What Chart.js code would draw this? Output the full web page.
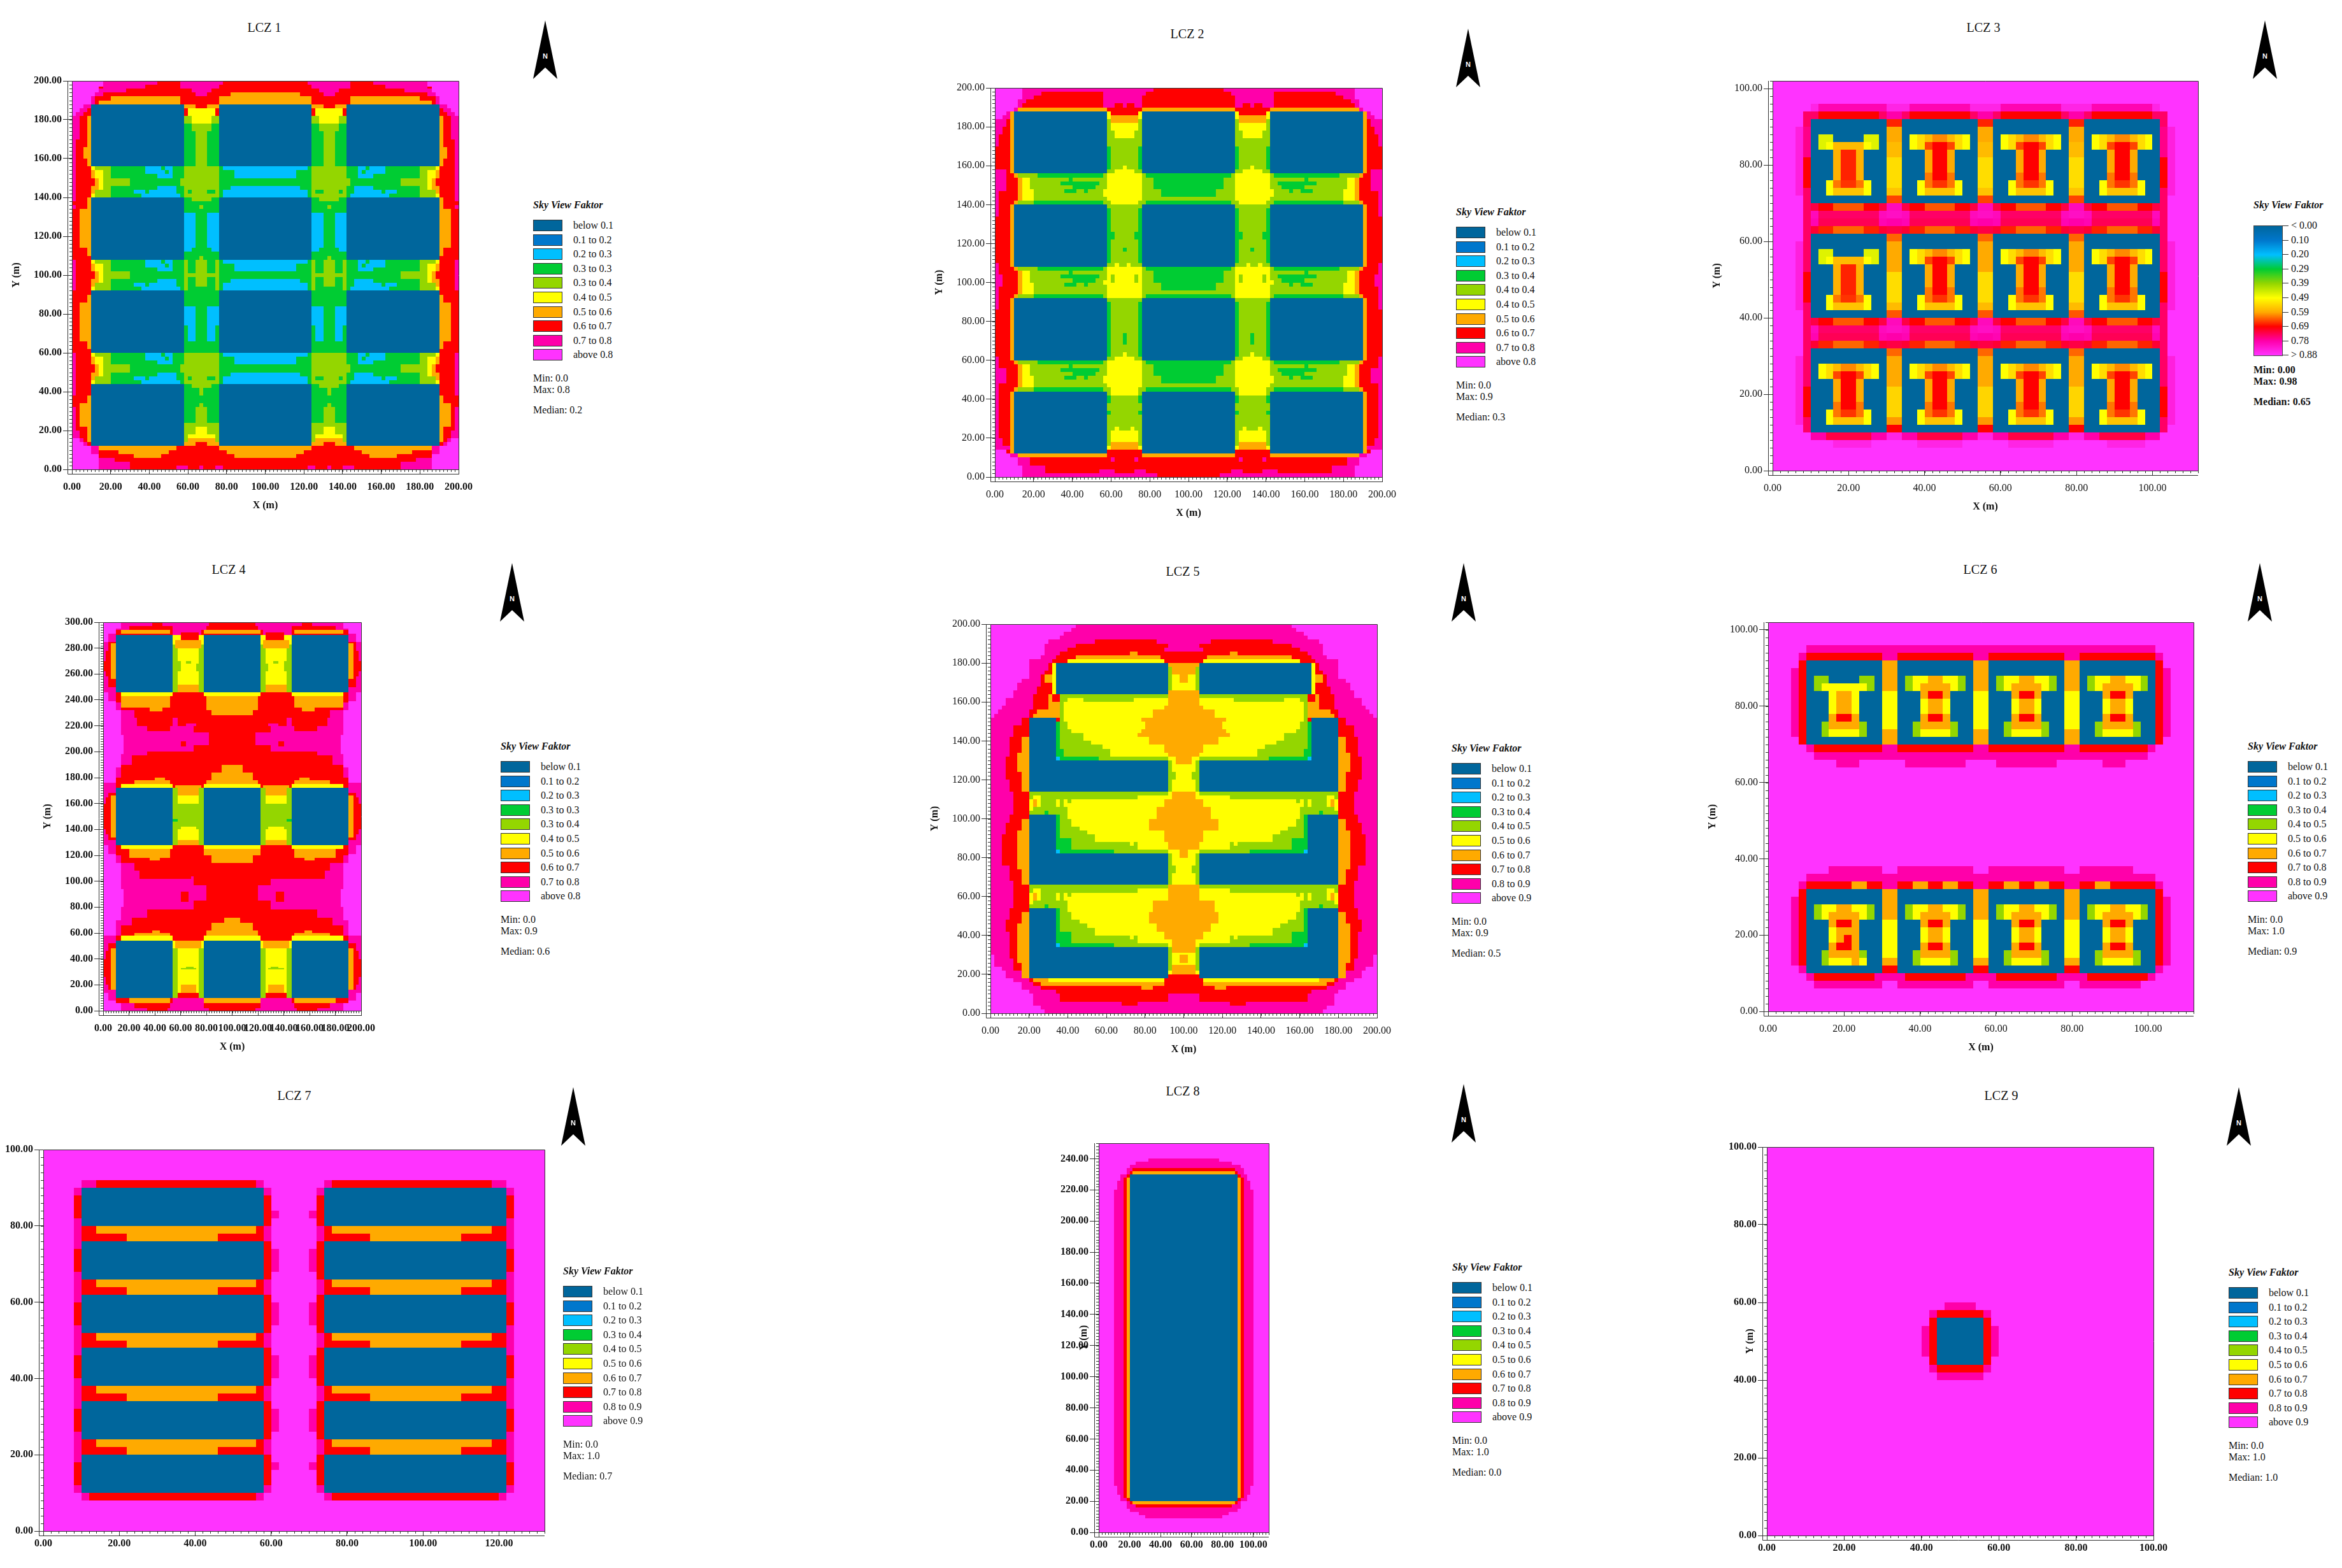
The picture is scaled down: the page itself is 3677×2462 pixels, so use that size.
<!DOCTYPE html>
<html>
<head>
<meta charset="utf-8">
<title>Sky View Faktor LCZ 1-9</title>
<script src="https://cdn.jsdelivr.net/npm/chart.js@4"></script>
<style>
html, body { margin: 0; background: #fff; }
body { position: relative; width: 3677px; height: 2462px; overflow: hidden; font-family: "Liberation Serif", serif; color: #111; }
canvas, .txt, .swatch, svg, .bar { position: absolute; }
.txt { font-size: 16px; white-space: nowrap; line-height: 18px; }
.swatch { width: 44px; height: 16px; border: 1px solid #333; }
</style>
</head>
<body>
<script>
// cell = [x0, x1, y0, y1, class], in metres. Fractional class = colour between two legend colours
const mirror = (list, w) => list.map(c => [w - c[1], w - c[0], c[2], c[3], c[4]]);
const shift = (list, dx, dy) => list.map(c => [c[0] + dx, c[1] + dx, c[2] + dy, c[3] + dy, c[4]]);

const svfColors = ['#00669c', '#0077cc', '#00bfff', '#00cc33', '#94d600', '#ffff00', '#ffaa00', '#ff0000', '#ff00aa', '#ff33ff'];
const legend8 = ['below 0.1', '0.1 to 0.2', '0.2 to 0.3', '0.3 to 0.3', '0.3 to 0.4', '0.4 to 0.5', '0.5 to 0.6', '0.6 to 0.7', '0.7 to 0.8', 'above 0.8'];
const legend2 = ['below 0.1', '0.1 to 0.2', '0.2 to 0.3', '0.3 to 0.4', '0.4 to 0.4', '0.4 to 0.5', '0.5 to 0.6', '0.6 to 0.7', '0.7 to 0.8', 'above 0.8'];
const legend9 = ['below 0.1', '0.1 to 0.2', '0.2 to 0.3', '0.3 to 0.4', '0.4 to 0.5', '0.5 to 0.6', '0.6 to 0.7', '0.7 to 0.8', '0.8 to 0.9', 'above 0.9'];
const gradientLabels = ['< 0.00', '0.10', '0.20', '0.29', '0.39', '0.49', '0.59', '0.69', '0.78', '> 0.88'];

// ---- LCZ 1
const lcz1Blocks = [[10,58,156,188,0],[76,124,156,188,0],[142,190,156,188,0],[10,58,108,140,0],[76,124,108,140,0],[142,190,108,140,0],[10,58,60,92,0],[76,124,60,92,0],[142,190,60,92,0],[10,58,12,44,0],[76,124,12,44,0],[142,190,12,44,0]];
const lcz1Outer = [[16,44,198,200,8],[16,38,196,198,8],[14,28,194,196,8],[12,16,192,194,8],[10,12,188,192,8],[6,10,186,188,8],[4,8,184,186,8],[2,6,182,184,8],[0,4,170,182,8],[0,2,138,170,8],[0,2,134,136,8],[0,2,92,108,8],[0,2,38,60,8],[0,2,20,32,8],[0,4,16,20,8],[2,6,14,16,8],[4,8,12,14,8],[8,10,10,12,8],[10,14,4,12,8],[14,22,4,6,8],[14,30,0,4,8],[54,60,0,2,8],[66,68,0,2,8],[74,78,0,2,8],
  [56,78,198,200,8],[56,76,196,198,8],[62,72,194,196,8],[64,70,192,194,8],
  [0,16,197,200,9],[0,14,194,197,9],[0,12,192,194,9],[0,10,188,192,9],[0,6,186,188,9],[0,4,184,186,9],[0,2,182,184,9],[0,4,14,16,9],[0,6,12,14,9],[0,10,8,12,9],[0,14,0,8,9],
  [20,56,190,192,6],[14,56,188,190,6],[14,54,10,12,6],[24,50,8,10,6],[32,46,6,8,6],
  [8,10,156,182,6],[6,8,160,166,6],[8,10,110,140,6],[4,8,114,134,6],[8,10,62,90,6],[4,8,66,86,6],[8,10,14,38,6],[4,8,22,34,6]];
const lcz1Row = [[10,20,140,156,4],[20,58,140,156,3],[10,12,142,154,6],[12,14,144,150,6],[10,12,154,156,5],[10,12,140,142,5],[12,16,150,154,5],[14,16,144,150,5],[10,12,146,150,7],[18,30,146,150,4],
  [38,52,152,156,2],[44,52,150,152,2],[48,50,152,154,3],[46,48,154,156,3],[36,56,140,142,2],[36,54,142,144,2],[32,36,142,144,2],[44,54,144,146,2],[38,40,142,144,3]];
const lcz1Inter = [[58,76,140,156,4],[56,78,146,150,4],[62,72,138,140,4],[60,62,142,144,3],[70,74,142,144,3]];
const lcz1Mid = [[76,124,140,156,3],[78,122,154,156,2],[84,116,150,154,2],[82,118,144,146,2],[78,122,140,144,2]];
const lcz1Street = [
  [58,76,156,178,3],[64,70,156,178,4],[62,72,174,178,4],[58,76,178,182,4],[60,74,182,186,5],[62,72,178,182,5],[58,76,186,188,6],[64,70,186,188,7],
  [58,76,108,140,3],[58,64,114,132,2],[58,62,112,114,2],[70,76,114,132,2],[72,76,112,114,2],[66,68,134,136,4],
  [58,76,92,108,3],[58,60,92,108,4],[74,76,92,108,4],[64,70,94,108,4],[66,68,108,110,4],[66,68,90,92,4],[60,78,99,101,4],
  [58,76,60,92,3],[58,64,74,84,2],[60,64,66,74,2],[70,76,74,84,2],[70,74,66,74,2],
  [58,76,12,44,3],[66,68,38,44,4],[64,70,24,32,4],[66,68,32,34,4],[58,76,14,24,4],[64,70,18,22,5],[60,74,16,18,5],[60,74,14,16,6],[58,76,12,14,6],[64,70,12,14,7]];
const lcz1Left = [...lcz1Outer, ...lcz1Row, ...shift(lcz1Row, 0, -48), ...shift(lcz1Row, 0, -96), ...lcz1Street, ...lcz1Inter, ...shift(lcz1Inter, 0, -96)];
const lcz1Center = [[82,118,192,194,6],[76,124,188,192,6],[76,124,10,12,6],[80,120,8,10,6],[84,116,6,8,6], ...lcz1Mid, ...shift(lcz1Mid, 0, -48), ...shift(lcz1Mid, 0, -96)];
const lcz1Cells = [[0,200,0,200,7], ...lcz1Left, ...mirror(lcz1Left, 200), ...lcz1Center, ...lcz1Blocks];

// ---- LCZ 2
const lcz2Blocks = lcz1Blocks;
const lcz2Outer = [[14,82,198,200,8],[14,24,196,198,8],[14,20,194,196,8],[14,16,192,194,8],[56,78,196,198,8],[56,76,192,196,8],[56,62,190,192,8],[66,68,190,192,8],[72,76,190,192,8],
  [12,14,190,194,8],[10,12,188,192,8],[6,10,186,188,8],[4,8,184,186,8],[2,6,182,184,8],[0,6,180,184,8],[0,4,176,180,8],[0,2,170,176,8],[0,6,147,158,8],[0,2,134,147,8],[0,2,86,110,8],[0,4,98,104,8],[0,2,36,62,8],[0,6,48,56,8],[0,2,20,36,8],[0,4,16,20,8],[0,8,14,16,8],[8,12,10,12,8],[12,18,6,10,8],[14,26,2,6,8],[14,84,0,2,8],[54,62,2,4,8],[72,78,2,4,8],[60,62,8,10,8],[72,74,8,10,8],
  [0,14,194,200,9],[0,12,190,194,9],[0,10,188,190,9],[0,6,186,188,9],[0,4,184,186,9],[0,6,12,14,9],[0,8,10,12,9],[0,12,6,10,9],[0,14,0,6,9],
  [12,58,188,190,6],[8,10,156,188,6],[8,10,108,140,6],[8,10,60,92,6],[8,10,12,44,6],[12,58,10,12,6]];
const lcz2Row = [[10,12,154,156,6],[12,22,154,156,4],[22,56,154,156,3],[56,58,154,156,4],[14,58,142,154,4],[12,14,142,154,6],[10,12,140,142,6],[12,20,140,142,4],[20,56,140,142,3],[56,58,140,142,4],[14,18,148,154,5],[14,20,142,148,5],
  [34,54,150,152,3],[40,52,148,150,3],[36,42,146,148,3],[46,48,146,148,3],[38,40,152,154,3]];
const lcz2Inter = [[58,76,140,156,5],[56,78,144,148,5],[62,72,156,158,5],[66,68,158,160,5],[58,60,154,156,5],[58,60,140,142,4],[74,76,140,142,4]];
const lcz2Mid = [[76,124,140,156,4],[78,122,154,156,3],[82,118,148,154,3],[86,114,144,148,3],[78,122,140,142,3]];
const lcz2Street = [
  [58,76,156,188,4],[58,60,158,170,3],[74,76,158,170,3],[60,74,174,182,5],[60,62,174,178,4],[72,74,174,178,4],[58,60,184,188,5],[60,74,182,186,6],[60,74,186,188,7],[74,76,184,188,5],
  [58,76,108,140,4],[58,60,110,138,3],[74,76,110,138,3],[58,62,122,126,3],[72,76,122,126,3],[66,68,116,118,3],
  [58,76,60,92,4],[58,60,62,90,3],[74,76,62,90,3],[66,68,68,74,3],
  [58,76,12,44,4],[58,60,38,42,3],[74,76,38,42,3],[58,60,32,34,3],[74,76,32,34,3],[60,74,18,24,5],[62,64,24,26,5],[70,72,24,26,5],[60,74,14,18,6],[58,76,12,14,7],[58,60,14,16,5],[74,76,14,16,5]];
const lcz2MidInter = [[58,76,92,108,5],[56,78,99,101,5],[62,64,108,110,5],[68,70,108,110,5],[60,62,100,104,4],[72,74,100,104,4]];
const lcz2Left = [...lcz2Outer, ...lcz2Street, ...lcz2Row, ...shift(lcz2Row, 0, -48), ...shift(lcz2Row, 0, -96), ...lcz2Inter, ...lcz2MidInter, ...shift(lcz2Inter, 0, -96), [60,74,42,44,5]];
const lcz2Center = [[76,124,188,190,6],[76,124,10,12,6], ...lcz2Mid, ...shift(lcz2Mid, 0, -48), ...shift(lcz2Mid, 0, -96)];
const lcz2Cells = [[0,200,0,200,7], ...lcz2Left, ...mirror(lcz2Left, 200), ...lcz2Center, ...lcz2Blocks];

// ---- LCZ 3
const lcz3Cols = [10, 34, 58, 82];
const lcz3Rows = [70, 40, 10];
const lcz3Gaps = [30, 54, 78];
const lcz3Court = [[2,4,14,18,5],[16,18,14,18,5],[4,6,14,18,5.4],[14,16,14,18,5.4],[6,8,16,18,5.8],[12,14,16,18,5.8],[8,12,16,18,6.2],[6,8,14,16,6.6],[12,14,14,16,6.6],[8,12,6,16,7],[6,8,8,14,6],[12,14,8,14,6],[6,8,6,8,6.3],[12,14,6,8,6.3],[6,8,4,6,6.3],[12,14,4,6,6.3],[8,12,4,6,6.7],[4,6,2,6,5],[14,16,2,6,5],[6,14,2,4,5.7]];
const lcz3CourtB = [[2,4,14,18,4.7],[4,6,16,18,4.7],[4,6,14,16,5],[6,14,14,16,5.8],[16,18,14,18,4.7],[14,16,16,18,4.7],[14,16,14,16,5],[6,8,6,14,5.9],[12,14,6,14,5.9],[8,12,6,14,6.8],[6,8,4,6,6.3],[12,14,4,6,6.3],[8,12,4,6,6.7],[4,6,2,6,5],[14,16,2,6,5],[6,14,2,4,5.7]];
const lcz3Band = [[0,20,6,8,7.4],[2,18,6,8,7],[6,14,6,8,6.5],[0,20,4,6,8.2],[2,18,4,6,7.6],[0,20,2,4,8.1],[2,18,2,4,7.5],[0,20,0,2,7.3],[2,18,0,2,6.8],[6,14,0,2,6.4],[20,24,6,8,8.2],[20,24,4,6,8.3],[20,24,2,4,8],[20,24,0,2,7.4]];
const lcz3GapTop = [[0,4,90,92,6.8],[0,4,86,90,6],[0,4,82,86,5.8],[0,4,74,82,5.4],[0,4,72,74,5.7],[0,4,70,72,6.6]];
const lcz3GapMid = [[0,4,60,62,6.4],[0,4,52,60,6],[0,4,44,52,5.4],[0,4,42,44,5.8],[0,4,40,42,6.5]];
const lcz3GapLow = [[0,4,30,32,6.4],[0,4,22,30,6],[0,4,14,22,5.5],[0,4,12,14,6.1],[0,4,10,12,7]];
const lcz3Side = [[8,10,70,94,7.6],[8,10,40,70,7.6],[8,10,10,40,7.6],[8,10,80,90,7.8],[8,10,74,82,7],[8,10,44,52,7],[8,10,14,22,7],[6,8,72,90,8.6],[6,8,42,60,8.6],[6,8,12,30,8.6]];
const lcz3Edge = [[10,102,94,96,8.7],[12,30,94,96,8.1],[36,52,94,96,8.1],[60,76,94,96,8.1],[84,100,94,96,8.1],[30,34,92,94,8],[54,58,92,94,8],[78,82,92,94,8],[10,30,92,94,7.6],[34,54,92,94,7.6],[58,78,92,94,7.6],[82,102,92,94,7.6],[12,28,92,94,7],[36,52,92,94,7],[60,76,92,94,7],[84,100,92,94,7],
  [10,102,8,10,8],[14,26,8,10,7.4],[38,50,8,10,7.4],[62,74,8,10,7.4],[86,98,8,10,7.4],[30,34,8,10,8.7],[54,58,8,10,8.7],[78,82,8,10,8.7],[16,26,6,8,8.7],[38,50,6,8,8.7],[62,74,6,8,8.7],[88,98,6,8,8.7]];
const lcz3Cells = [[0,112,0,102,9], ...lcz3Edge, ...lcz3Side, ...mirror(lcz3Side, 112),
  ...lcz3Cols.flatMap(x => [...shift(lcz3Band.slice(0, x === 82 ? 10 : 14), x, 62), ...shift(lcz3Band.slice(0, x === 82 ? 10 : 14), x, 32)]),
  ...lcz3Gaps.flatMap(x => [...shift(lcz3GapTop, x, 0), ...shift(lcz3GapMid, x, 0), ...shift(lcz3GapLow, x, 0)]),
  ...lcz3Cols.flatMap(x => lcz3Rows.map(y => [x, x + 20, y, y + 22, 0])),
  ...lcz3Cols.flatMap((x, i) => lcz3Rows.flatMap((y, j) => shift(i === 0 && j < 2 ? lcz3CourtB : lcz3Court, x, y)))];

// ---- LCZ 4
const lcz4Left = [[0,4,285,291,9],[0,10,291,295,9],[0,14,295,300,9],[0,4,239,246,9],[0,10,232,239,9],[0,14,213,232,9],[0,16,198,213,9],[0,14,188,198,9],[0,10,176,188,9],[0,4,121,128,9],[0,10,114,121,9],[0,14,94,114,9],[0,16,80,94,9],[0,14,70,80,9],[0,10,58,70,9],[0,4,8,14,9],[0,14,0,8,9],
  [38,46,297,300,7],[20,54,294,297,7],[10,54,290,294,7],[4,10,250,285,7],[2,10,258,278,7],[0,4,262,270,7],[4,10,132,168,7],[2,10,136,165,7],[0,4,140,160,7],[4,10,16,52,7],[2,10,20,46,7],[0,4,26,40,7],[10,14,6,10,7],
  [14,52,291,294,6],[6,10,256,284,6],[6,10,134,166,6],[6,10,16,48,6],
  [10,12,244,246,7],[14,52,234,243,6],[36,46,231,234,6],[14,54,243,246,5],
  [26,54,220,226,7],[34,52,216,220,7],[64,72,220,222,8],
  [54,78,246,290,5],[54,58,246,283,4],[74,78,246,283,4],[54,56,283,290,5],[76,78,283,290,5],[56,76,280,286,6],[60,74,286,292,7],[58,74,246,252,6],[58,60,262,270,4],[72,74,262,268,4],[64,68,268,270,4],
  [14,54,172,175,5],[24,52,175,178,6],[40,48,178,180,6],[14,54,125,128,5],[20,52,118,125,6],[36,44,116,118,6],
  [54,78,128,172,5],[54,58,128,172,4],[74,78,128,172,4],[58,74,140,160,4],[54,78,148,152,4],[60,72,134,142,5],[58,74,166,172,6],[56,76,172,174,6],[64,72,174,177,7],[58,74,128,132,6],[54,58,146,148,3],
  [14,54,54,58,5],[24,52,58,60,6],[38,44,60,62,6],[20,52,6,10,6],
  [54,78,10,54,5],[54,58,10,48,4],[74,78,10,48,4],[56,76,48,54,6],[60,72,14,20,6],[58,74,10,14,7],[60,72,32,33,4],[64,70,33,34,4]];
const lcz4Center = [[82,118,297,300,7],[80,120,294,297,7],[76,124,290,294,7],[78,122,291,294,6],[78,122,243,246,5],[80,120,232,243,6],[84,116,228,232,6],[78,122,172,175,5],[80,120,175,178,6],[84,116,178,184,6],[92,108,184,190,6],[78,122,125,128,5],[78,122,120,125,6],[84,116,114,120,6],[78,122,54,58,5],[80,120,58,62,6],[84,116,62,68,6],[94,106,68,72,6],[78,122,6,10,6]];
const lcz4Red = [[10,190,238,246,7],[14,186,232,238,7],[24,176,226,232,7],[58,142,220,226,7],[70,130,215,220,7],[82,118,205,215,7],[70,130,200,205,7],[34,166,197,200,7],[22,178,190,197,7],[14,186,180,190,7],[10,190,172,180,7],
  [10,190,120,128,7],[14,186,114,120,7],[24,176,108,114,7],[28,172,102,108,7],[70,130,97,102,7],[80,120,85,97,7],[70,130,78,85,7],[34,166,72,78,7],[22,178,66,72,7],[14,186,58,66,7],[10,190,54,58,7],
  [14,54,6,10,7],[24,52,2,6,7],[34,50,0,2,7],[78,122,2,10,7],[82,118,0,2,7],[146,186,6,10,7],[148,176,2,6,7],[150,166,0,2,7],[60,72,11,14,7],[128,140,11,14,7],
  [60,64,204,208,7],[136,140,204,208,7],[60,66,84,92,7],[134,140,84,92,7],[68,70,96,104,8]];
const lcz4Cells = [[0,200,0,300,8], ...lcz4Red, ...lcz4Left, ...mirror(lcz4Left, 200), ...lcz4Center,
  [10,54,246,290,0],[78,122,246,290,0],[146,190,246,290,0],[10,54,128,172,0],[78,122,128,172,0],[146,190,128,172,0],[10,54,10,54,0],[78,122,10,54,0],[146,190,10,54,0]];

// ---- LCZ 5
const lcz5Pink = [[44,156,198,200,8],[42,158,196,198,8],[38,162,194,196,8],[36,164,192,194,8],[30,170,190,192,8],[28,172,184,190,8],[26,174,182,184,8],[20,180,172,182,8],[16,184,170,172,8],[14,186,166,170,8],[12,188,162,166,8],[8,192,158,162,8],[6,194,156,158,8],[4,196,154,156,8],[2,198,152,154,8],[0,200,30,152,8],[2,198,24,30,8],[6,194,22,24,8],[8,192,18,22,8],[12,188,16,18,8],[16,184,12,16,8],[20,180,10,12,8],[22,178,4,10,8],[26,174,2,4,8],[28,172,0,2,8]];
const lcz5Red = [[54,86,190,192,7],[114,146,190,192,7],[44,92,188,190,7],[108,156,188,190,7],[40,90,186,188,7],[110,160,186,188,7],[36,164,184,186,7],[34,166,182,184,7],[32,168,180,182,7],[30,170,176,180,7],[28,172,174,176,7],[26,174,168,174,7],[24,176,164,168,7],[22,178,156,164,7],[20,180,152,156,7],[16,184,148,152,7],[12,188,142,148,7],[10,190,132,142,7],[8,192,120,132,7],[10,190,114,120,7],[12,188,102,114,7],[10,190,98,102,7],[8,192,92,98,7],[6,194,76,92,7],[10,190,68,76,7],[12,188,54,68,7],[10,190,48,54,7],[8,192,42,48,7],[10,190,28,42,7],[12,188,22,28,7],[16,184,20,22,7],[18,182,18,20,7],[20,180,16,18,7],[22,178,14,16,7],[26,174,12,14,7],[34,166,10,12,7],[36,92,6,10,7],[108,164,6,10,7],[68,76,4,6,7],[124,132,4,6,7]];
const lcz5Top = [[44,88,182,184,6],[72,76,184,186,6],[40,90,180,182,5],[32,34,164,180,5],[28,32,170,174,6],[30,32,160,164,6],[30,36,156,160,6],[24,38,154,156,6],[22,38,152,154,6],[22,26,150,152,5],[26,28,150,152,4],[28,34,150,152,5],
  [36,92,130,164,4],[34,36,136,150,3],[34,38,132,136,3],[36,56,130,132,3],[34,36,130,132,2],
  [40,48,160,162,5],[74,92,160,162,5],[38,92,150,160,5],[40,92,146,150,5],[42,92,144,146,5],[48,92,140,144,5],[52,92,138,140,5],[58,92,136,138,5],[62,92,132,136,5],
  [16,20,126,142,6],[14,20,124,134,6],[16,20,114,125,6]];
const lcz5Mid = [[20,92,102,114,4],[92,94,66,82,4],[22,26,106,112,5],[22,24,106,110,6],[34,36,106,110,5],[38,40,106,110,5],[20,22,104,110,5],[26,30,102,104,4],[28,30,102,104,3],
  [34,92,82,102,4],[34,36,90,102,3],[34,42,84,90,3],[36,64,82,84,3],[34,36,82,84,2],
  [76,92,110,112,5],[42,92,108,110,5],[40,92,100,108,5],[42,92,96,100,5],[46,92,94,96,5],[50,92,92,94,5],[54,92,88,92,5],[76,92,84,88,5],[72,74,86,88,5],
  [16,20,66,100,6],[14,20,74,94,6]];
const lcz5MidRight = [[162,164,90,102,3],[156,164,84,90,3],[134,162,82,84,3],[162,164,82,84,2]];
const lcz5Low = [[16,20,22,52,6],[14,20,38,46,6],[22,30,16,18,6],[30,90,16,18,5],[26,90,14,16,6],[78,84,12,14,6]];
const lcz5Center = [[92,108,180,186,7],[96,104,178,180,7],[92,108,178,180,6],[92,108,114,178,5],[94,106,174,178,6],[98,102,170,174,6],[92,94,166,178,4],[106,108,166,178,4],
  [92,108,158,166,6],[90,110,156,158,6],[84,116,152,156,6],[78,122,150,152,6],[80,120,146,150,6],[78,122,144,146,6],[76,124,142,144,6],[82,118,138,142,6],[90,110,134,138,6],[92,108,132,134,6],[96,104,128,132,6],
  [92,94,114,130,4],[106,108,114,130,4],[92,96,120,124,4],[104,108,120,124,4],
  [92,108,66,114,5],[94,106,110,114,6],[90,110,106,110,6],[86,114,94,106,6],[82,118,94,100,6],[90,110,88,94,6],[92,108,84,88,6],[98,102,80,84,6],[92,96,72,76,4],[104,108,72,76,4],[92,94,66,82,4],[106,108,66,82,4],
  [92,108,18,66,5],[92,108,58,66,6],[84,116,52,58,6],[82,118,46,52,6],[86,114,42,46,6],[90,110,38,42,6],[94,106,31,38,6],[98,102,26,30,6],[94,106,20,25,6],[92,94,22,34,4],[106,108,22,34,4],[92,108,18,20,7],[92,108,12,18,7]];
const lcz5Blocks = [[34,92,164,180,0],[108,166,164,180,0],[20,34,130,152,0],[20,92,114,130,0],[108,180,114,130,0],[166,180,130,152,0],[20,34,82,102,0],[20,92,66,82,0],[108,180,66,82,0],[164,180,82,102,0],[20,34,34,54,0],[20,92,18,34,0],[108,180,18,34,0],[164,180,34,54,0]];
const lcz5Left = [...lcz5Top, ...lcz5Mid, ...shift(lcz5Mid, 0, -48), ...lcz5Low];
const lcz5Cells = [[0,200,0,200,9], ...lcz5Pink, ...lcz5Red, ...lcz5Left, ...mirror(lcz5Left, 200), ...lcz5MidRight, ...shift(lcz5MidRight, 0, -48), ...lcz5Center, ...lcz5Blocks];

// ---- LCZ 6
const lcz6Cols = [10, 34, 58, 82];
const lcz6Rows = [70, 10];
const lcz6Gaps = [30, 54, 78];
const lcz6Court = [[2,4,14,18,4],[4,8,16,18,5],[4,6,14,16,5],[8,12,16,18,6],[12,16,16,18,5],[14,16,14,16,5],[16,18,14,18,4],[6,14,14,16,6],[6,8,12,14,6],[12,14,12,14,6],[8,12,12,14,7],[6,8,8,12,5],[12,14,8,12,5],[8,12,8,12,6],[6,14,4,8,6],[8,12,6,8,7],[4,6,2,6,4],[14,16,2,6,4],[6,14,2,4,5]];
const lcz6CourtFirst = [[2,6,16,18,4],[2,4,14,16,4],[14,18,16,18,4],[16,18,14,16,4],[4,16,14,16,5],[6,8,8,14,5],[12,14,8,14,5],[8,12,8,14,6],[6,8,6,8,6],[12,14,6,8,6],[8,12,6,8,7],[6,14,4,6,6],[4,6,2,6,4],[14,16,2,6,4],[6,14,2,4,5]];
const lcz6CourtOdd = [[8,12,10,12,6],[8,10,8,10,6],[10,12,8,10,7],[8,12,6,8,7],[12,14,6,12,6],[12,14,2,4,6],[14,16,2,4,5]];
const lcz6Upper = [[10,102,94,96,8],[8,10,92,94,8],[102,104,92,94,8],[30,34,92,94,8],[54,58,92,94,8],[78,82,92,94,8],[10,30,92,94,7],[34,54,92,94,7],[58,78,92,94,7],[82,102,92,94,7],[8,10,70,92,7],[102,104,70,92,7],[6,8,72,90,8],[104,106,72,90,8],
  [10,102,68,70,8],[12,30,68,70,7],[34,54,68,70,7],[58,78,68,70,7],[82,100,68,70,7],[12,100,66,68,8],[18,24,64,66,8],[36,52,64,66,8],[60,76,64,66,8],[88,94,64,66,8]];
const lcz6Lower = [[16,30,36,38,8],[34,54,36,38,8],[58,78,36,38,8],[82,96,36,38,8],[10,102,34,36,8],[8,10,32,34,8],[102,104,32,34,8],[30,34,32,34,8],[54,58,32,34,8],[78,82,32,34,8],[10,30,32,34,7],[34,54,32,34,7],[58,78,32,34,7],[82,102,32,34,7],[22,26,32,34,6],[38,42,32,34,6],[46,50,32,34,6],[62,66,32,34,6],[70,74,32,34,6],[86,90,32,34,6],
  [8,10,12,32,7],[102,104,12,32,7],[8,10,10,12,8],[102,104,10,12,8],[6,8,12,30,8],[104,106,12,30,8],
  [10,102,8,10,8],[12,28,8,10,7],[36,52,8,10,7],[60,76,8,10,7],[84,100,8,10,7],[12,30,6,8,8],[34,54,6,8,8],[58,78,6,8,8],[82,98,6,8,8]];
const lcz6GapUp = [[0,4,84,92,6],[0,4,74,84,5],[0,4,70,74,6]];
const lcz6GapLow = [[0,4,24,32,6],[0,4,14,24,5],[0,4,12,14,6],[0,4,10,12,7]];
const lcz6Cells = [[0,112,0,102,9], ...lcz6Upper, ...lcz6Lower,
  ...lcz6Gaps.flatMap(x => [...shift(lcz6GapUp, x, 0), ...shift(lcz6GapLow, x, 0)]),
  ...lcz6Cols.flatMap(x => lcz6Rows.map(y => [x, x + 20, y, y + 22, 0])),
  ...lcz6Cols.flatMap((x, i) => lcz6Rows.flatMap((y, j) => shift(i === 0 && j === 0 ? lcz6CourtFirst : lcz6Court, x, y))),
  ...shift(lcz6CourtOdd, 10, 10)];

// ---- LCZ 7
const lcz7Blocks = [[10,58,80,90,0],[10,58,66,76,0],[10,58,52,62,0],[10,58,38,48,0],[10,58,24,34,0],[10,58,10,20,0],[74,122,80,90,0],[74,122,66,76,0],[74,122,52,62,0],[74,122,38,48,0],[74,122,24,34,0],[74,122,10,20,0]];
const lcz7StreetY = [76, 62, 48, 34, 20];
const lcz7Street = [[10,58,0,4,7],[14,56,2,4,6],[22,46,0,2,6]];
const lcz7LeftOuter = [[14,56,90,92,7],[10,14,90,92,8],[56,58,90,92,8],[12,56,8,10,7],[10,12,8,10,8],[56,58,8,10,8],
  [8,10,10,90,8],[8,10,82,88,7],[8,10,68,74,7],[8,10,54,60,7],[8,10,40,46,7],[8,10,26,32,7],[8,10,12,18,7],
  [58,60,10,90,7],[58,60,88,90,8],[58,60,76,80,8],[58,60,62,66,8],[58,60,48,52,8],[58,60,34,38,8],[58,60,20,24,8],[58,60,10,12,8],
  [60,62,82,84,8],[60,62,68,74,8],[60,62,54,60,8],[60,62,40,46,8],[60,62,26,32,8],[60,62,16,18,8]];
const lcz7RightOuter = [[76,118,90,92,7],[74,76,90,92,8],[118,122,90,92,8],[76,120,8,10,7],[74,76,8,10,8],[120,122,8,10,8],
  [122,124,10,90,8],[122,124,82,88,7],[122,124,68,74,7],[122,124,54,60,7],[122,124,40,46,7],[122,124,26,32,7],[122,124,12,18,7],
  [72,74,10,90,7],[72,74,88,90,8],[72,74,76,80,8],[72,74,62,66,8],[72,74,48,52,8],[72,74,34,38,8],[72,74,20,24,8],[72,74,10,12,8],
  [70,72,82,84,8],[70,72,68,74,8],[70,72,54,60,8],[70,72,40,46,8],[70,72,26,32,8],[70,72,16,18,8]];
const lcz7StreetRight = [[74,122,0,4,7],[76,118,2,4,6],[86,110,0,2,6]];
const lcz7Cells = [[0,132,0,100,9], ...lcz7LeftOuter, ...lcz7RightOuter,
  ...lcz7StreetY.flatMap(y => [...shift(lcz7Street, 0, y), ...shift(lcz7StreetRight, 0, y)]), ...lcz7Blocks];

// ---- LCZ 8
const lcz8Cells = [[0,110,0,250,9],
  [32,78,20,240,8],[24,86,20,238,8],[20,92,20,236,8],[18,94,20,234,8],[14,96,20,230,8],[12,98,24,226,8],[10,100,30,220,8],[30,80,9,20,8],[26,84,11,20,8],[20,90,13,20,8],[18,92,15,20,8],
  [16,94,22,228,7],[18,92,20,230,7],[20,90,18,232,7],[22,88,18,234,7],[24,86,16,18,7],
  [18,20,22,228,6],[90,92,22,228,6],[22,88,230,232,6],[22,88,18,20,6],
  [20,90,20,230,0]];

// ---- LCZ 9
const lcz9Cells = [[0,100,0,100,9],[46,54,58,60,8],[42,58,42,58,8],[40,42,46,54,8],[58,60,46,54,8],[44,56,40,42,8],[44,56,42,58,7],[42,58,44,56,7],[44,56,44,56,0]];

// stats shown under each legend
const lczMin = ['0.0', '0.0', '0.00', '0.0', '0.0', '0.0', '0.0', '0.0', '0.0'];
const lczMax = ['0.8', '0.9', '0.98', '0.9', '0.9', '1.0', '1.0', '1.0', '1.0'];
const lczMedian = ['0.2', '0.3', '0.65', '0.6', '0.5', '0.9', '0.7', '0.0', '1.0'];

function svfColor(v) {
    const i = Math.min(Math.floor(v), 9), t = v - i;
    if (t === 0) return svfColors[i];
    const rgb = h => [1, 3, 5].map(k => parseInt(h.substr(k, 2), 16));
    const a = rgb(svfColors[i]), b = rgb(svfColors[i + 1]);
    return 'rgb(' + a.map((n, k) => Math.round(n + (b[k] - n) * t)).join(',') + ')';
}

// paints the cells through the chart's scales
const cellPlugin = {
    id: 'cells',
    beforeDatasetsDraw(chart) {
        const { ctx, scales: { x, y } } = chart;
        ctx.save();
        chart.data.datasets[0].data.forEach(c => {
            const l = Math.round(x.getPixelForValue(c.x)), r = Math.round(x.getPixelForValue(c.x2));
            const t = Math.round(y.getPixelForValue(c.y2)), b = Math.round(y.getPixelForValue(c.y));
            ctx.fillStyle = svfColor(c.v);
            ctx.fillRect(l, t, r - l, b - t);
        });
        ctx.restore();
    }
};

// double axis line with the small 2 m ticks
const framePlugin = {
    id: 'frame',
    afterDraw(chart) {
        const { ctx, chartArea: a, scales: { x, y } } = chart;
        ctx.save();
        ctx.strokeStyle = '#333';
        ctx.lineWidth = 1;
        ctx.beginPath();
        ctx.rect(a.left + 0.5, a.top + 0.5, a.right - a.left, a.bottom - a.top);
        ctx.moveTo(a.left - 6.5, a.top);
        ctx.lineTo(a.left - 6.5, a.bottom + 7.5);
        ctx.lineTo(a.right, a.bottom + 7.5);
        for (let v = 0; v <= x.max; v += 2) {
            const px = Math.round(x.getPixelForValue(v)) + 0.5;
            ctx.moveTo(px, a.bottom);
            ctx.lineTo(px, a.bottom + 4);
        }
        for (let v = 0; v <= y.max; v += 2) {
            const py = Math.round(y.getPixelForValue(v)) + 0.5;
            ctx.moveTo(a.left, py);
            ctx.lineTo(a.left - 4, py);
        }
        ctx.stroke();
        ctx.restore();
    }
};

function addText(text, left, top, css) {
    const d = document.createElement('div');
    d.className = 'txt';
    d.textContent = text;
    d.style.left = left + 'px';
    d.style.top = top + 'px';
    if (css) Object.assign(d.style, css);
    document.body.appendChild(d);
    return d;
}

function addPanel(p) {
    const [left, right, top, bottom] = p.box;
    const marginL = 100, marginR = 36, marginT = 14, marginB = p.xTitle ? 66 : 50;
    const canvas = document.createElement('canvas');
    canvas.width = right - left + marginL + marginR;
    canvas.height = bottom - top + marginT + marginB;
    canvas.style.left = (left - marginL) + 'px';
    canvas.style.top = (top - marginT) + 'px';
    document.body.appendChild(canvas);
    const tickFont = { family: '"Liberation Serif"', size: 16, weight: p.bold ? 'bold' : 'normal' };
    const titleFont = { family: '"Liberation Serif"', size: 16, weight: 'bold' };
    new Chart(canvas, {
        type: 'scatter',
        plugins: [cellPlugin, framePlugin],
        data: { datasets: [{ data: p.cells.map(c => ({ x: c[0], x2: c[1], y: c[2], y2: c[3], v: c[4] })), pointRadius: 0 }] },
        options: {
            responsive: false,
            animation: false,
            devicePixelRatio: 1,
            layout: { padding: { top: marginT, right: marginR, left: 0, bottom: 0 } },
            plugins: { legend: { display: false }, tooltip: { enabled: false } },
            scales: {
                x: {
                    type: 'linear', min: 0, max: p.xMax,
                    afterFit(s) { s.height = marginB; },
                    grid: { drawOnChartArea: false, tickLength: 8, tickColor: '#333' },
                    border: { color: '#333' },
                    title: { display: !!p.xTitle, text: 'X (m)', font: titleFont, color: '#111', padding: { top: 0, bottom: 0 } },
                    ticks: { stepSize: 20, includeBounds: false, autoSkip: false, maxRotation: 0, padding: p.xPad, color: '#111', font: tickFont, callback: v => v.toFixed(2) }
                },
                y: {
                    type: 'linear', min: 0, max: p.yMax,
                    afterFit(s) { s.width = marginL; },
                    grid: { drawOnChartArea: false, tickLength: 14, tickColor: '#333' },
                    border: { color: '#333' },
                    title: { display: !!p.yTitle, text: 'Y (m)', font: titleFont, color: '#111', padding: { top: p.yTitle || 0, bottom: 0 } },
                    ticks: { stepSize: 20, includeBounds: false, autoSkip: false, padding: 2, color: '#111', font: tickFont, callback: v => v.toFixed(2) }
                }
            }
        }
    });

    // title over the panel
    addText(p.name, p.titleAt[0], p.titleAt[1] - 9, { transform: 'translateX(-50%)', fontSize: '20px', lineHeight: '20px' });

    // north arrow
    const svgNS = 'http://www.w3.org/2000/svg';
    const svg = document.createElementNS(svgNS, 'svg');
    svg.setAttribute('width', 38); svg.setAttribute('height', 93);
    svg.style.left = (p.arrowAt[0] - 19) + 'px';
    svg.style.top = p.arrowAt[1] + 'px';
    const poly = document.createElementNS(svgNS, 'polygon');
    poly.setAttribute('points', '19,0 0,92 19,74 38,92');
    svg.appendChild(poly);
    const n = document.createElementNS(svgNS, 'text');
    n.textContent = 'N';
    n.setAttribute('x', 19); n.setAttribute('y', 60);
    n.setAttribute('text-anchor', 'middle'); n.setAttribute('fill', '#fff');
    n.setAttribute('font-family', 'Liberation Sans'); n.setAttribute('font-weight', 'bold'); n.setAttribute('font-size', 11);
    svg.appendChild(n);
    document.body.appendChild(svg);

    // legend
    const [lx, ly] = p.legendAt;
    addText('Sky View Faktor', lx, ly - 9, { fontWeight: 'bold', fontStyle: 'italic' });
    if (p.gradient) {
        const bar = document.createElement('div');
        bar.className = 'bar';
        bar.style.cssText = `left:${lx}px;top:${ly + 32}px;width:44px;height:203px;border:1px solid #444;background:linear-gradient(${svfColors.join(',')})`;
        document.body.appendChild(bar);
        p.gradient.forEach((t, i) => {
            const yy = ly + 32 + i * 22.6;
            const tick = document.createElement('div');
            tick.className = 'bar';
            tick.style.cssText = `left:${lx + 45}px;top:${Math.round(yy)}px;width:10px;height:1px;background:#333`;
            document.body.appendChild(tick);
            addText(t, lx + 59, yy - 9);
        });
        addText('Min: ' + p.stats[0], lx, ly + 250, { fontWeight: 'bold' });
        addText('Max: ' + p.stats[1], lx, ly + 268, { fontWeight: 'bold' });
        addText('Median: ' + p.stats[2], lx, ly + 300, { fontWeight: 'bold' });
    } else {
        p.legend.forEach((t, i) => {
            const s = document.createElement('div');
            s.className = 'swatch';
            s.style.left = lx + 'px';
            s.style.top = Math.round(ly + 23 + i * 22.6) + 'px';
            s.style.background = svfColors[i];
            document.body.appendChild(s);
            addText(t, lx + 63, ly + 23 + i * 22.6);
        });
        addText('Min: ' + p.stats[0], lx, ly + 263);
        addText('Max: ' + p.stats[1], lx, ly + 281);
        addText('Median: ' + p.stats[2], lx, ly + 313);
    }
}

const panels = [
    { name: 'LCZ 1', cells: lcz1Cells, xMax: 200, yMax: 200, box: [113, 720, 127, 737], xTitle: 1, yTitle: 3, xPad: 10, bold: 1, titleAt: [415, 42], arrowAt: [856, 32], legendAt: [837, 322], legend: legend8 },
    { name: 'LCZ 2', cells: lcz2Cells, xMax: 200, yMax: 200, box: [1562, 2170, 138, 749], xTitle: 1, yTitle: 3, xPad: 10, titleAt: [1864, 52], arrowAt: [2305, 45], legendAt: [2286, 333], legend: legend2 },
    { name: 'LCZ 3', cells: lcz3Cells, xMax: 112, yMax: 102, box: [2783, 3451, 127, 739], xTitle: 1, yTitle: 3, xPad: 10, titleAt: [3114, 42], arrowAt: [3556, 32], legendAt: [3538, 322], gradient: gradientLabels },
    { name: 'LCZ 4', cells: lcz4Cells, xMax: 200, yMax: 300, box: [162, 567, 977, 1587], xTitle: 1, yTitle: 3, xPad: 10, bold: 1, titleAt: [359, 893], arrowAt: [804, 884], legendAt: [786, 1172], legend: legend8 },
    { name: 'LCZ 5', cells: lcz5Cells, xMax: 200, yMax: 200, box: [1555, 2162, 980, 1591], xTitle: 1, yTitle: 3, xPad: 10, titleAt: [1857, 896], arrowAt: [2298, 884], legendAt: [2279, 1175], legend: legend9 },
    { name: 'LCZ 6', cells: lcz6Cells, xMax: 112, yMax: 102, box: [2776, 3444, 977, 1588], xTitle: 1, yTitle: 3, xPad: 10, titleAt: [3109, 893], arrowAt: [3548, 884], legendAt: [3529, 1172], legend: legend9 },
    { name: 'LCZ 7', cells: lcz7Cells, xMax: 132, yMax: 100, box: [68, 855, 1805, 2404], xPad: 2, bold: 1, titleAt: [462, 1719], arrowAt: [900, 1707], legendAt: [884, 1996], legend: legend9 },
    { name: 'LCZ 8', cells: lcz8Cells, xMax: 110, yMax: 250, box: [1725, 1992, 1795, 2406], yTitle: 67, xPad: 2, bold: 1, titleAt: [1857, 1712], arrowAt: [2298, 1702], legendAt: [2280, 1990], legend: legend9 },
    { name: 'LCZ 9', cells: lcz9Cells, xMax: 100, yMax: 100, box: [2774, 3381, 1801, 2411], yTitle: 64, xPad: 2, bold: 1, titleAt: [3142, 1719], arrowAt: [3515, 1707], legendAt: [3499, 1998], legend: legend9 }
];

panels.forEach((p, i) => {
    p.stats = [lczMin[i], lczMax[i], lczMedian[i]];
    addPanel(p);
});
</script>
</body>
</html>
